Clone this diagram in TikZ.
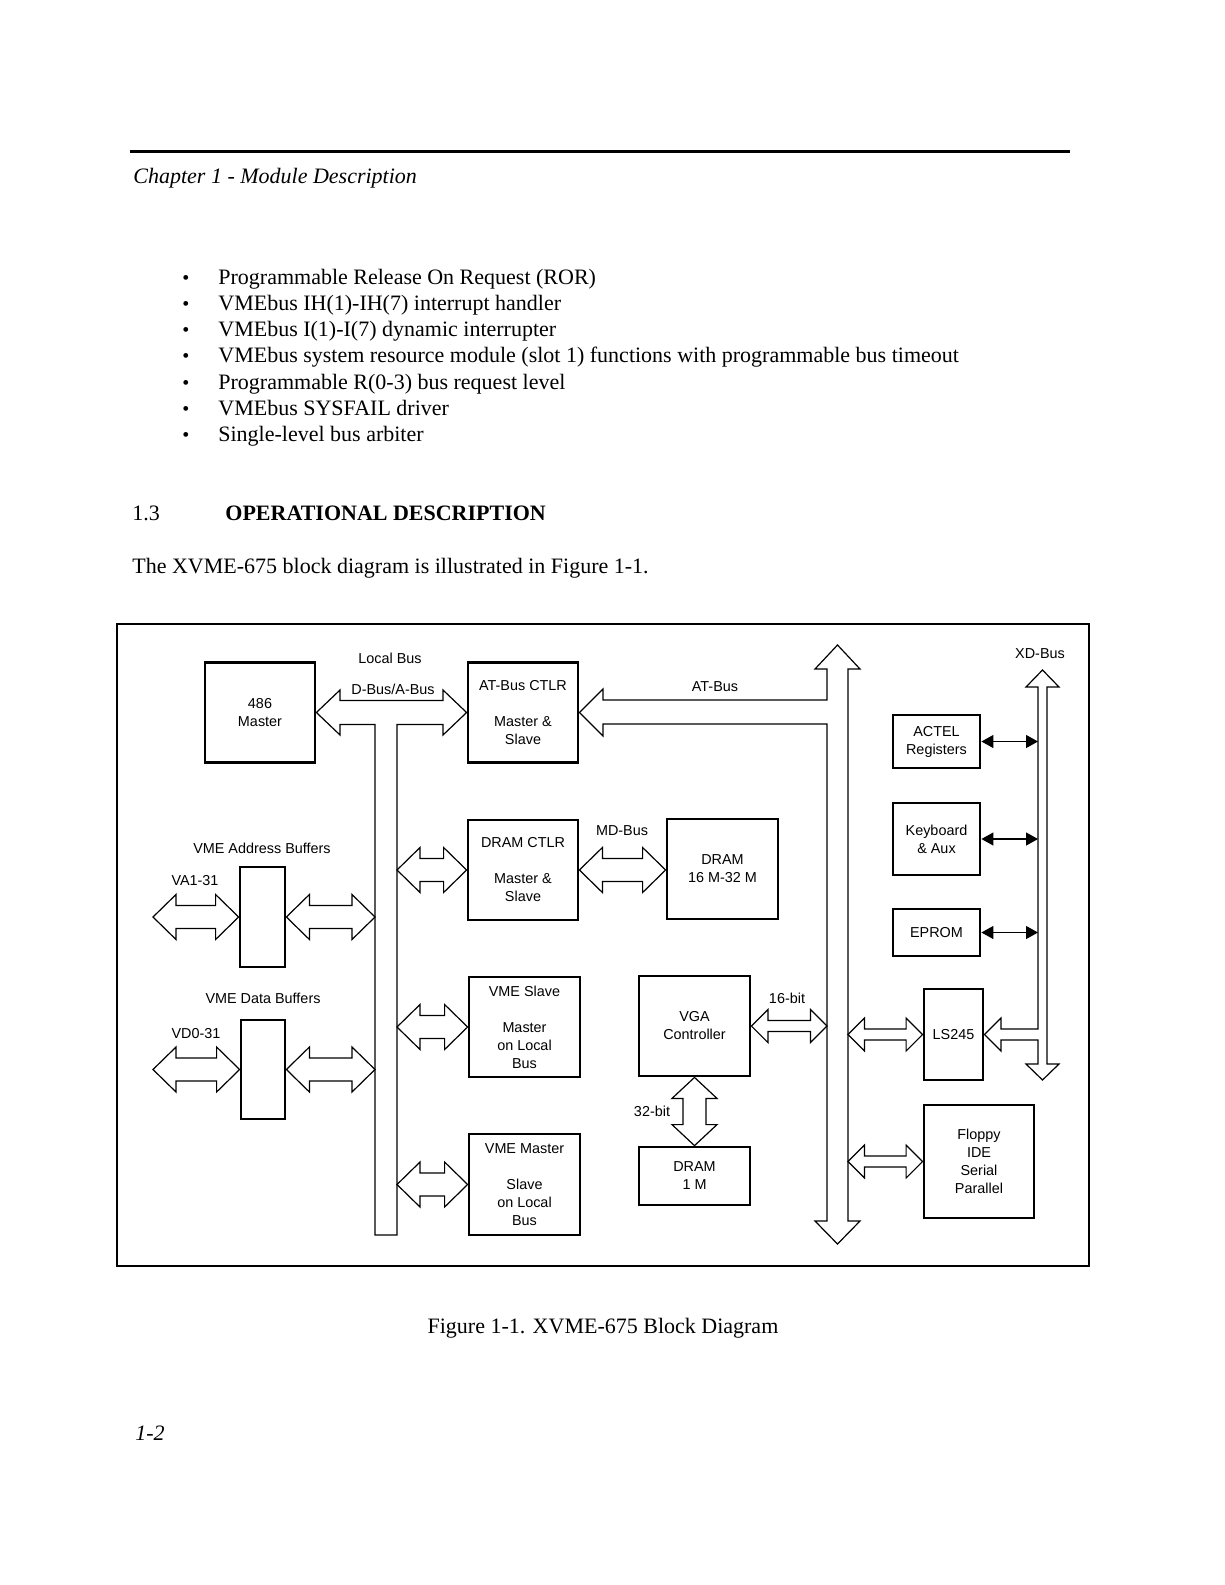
\documentclass[tikz,border=0pt]{standalone}
\usepackage{fontspec}
\setmainfont{Liberation Serif}
\setsansfont{Liberation Sans}
\usetikzlibrary{arrows.meta,calc}

\begin{document}
\begin{tikzpicture}[x=0.5pt,y=-0.5pt,font=\sffamily\fontsize{7.2}{9}\selectfont,
  blk/.style 2 args={draw,line width=1.4pt,inner sep=0pt,align=center,
    minimum width=#1*0.5pt,minimum height=#2*0.5pt},
  lab/.style={inner sep=0pt},
  txt/.style={font=\rmfamily\fontsize{11}{13}\selectfont,inner sep=0pt,anchor=base west},
  bus/.style={line width=0.6pt,line join=miter},
  harr/.style n args={3}{to path={
    -- ($(\tikztostart)+(#3,-#1)$) -- ($(\tikztostart)+(#3,-#2)$)
    -- ($(\tikztotarget)+(-#3,-#2)$) -- ($(\tikztotarget)+(-#3,-#1)$) -- (\tikztotarget)
    -- ($(\tikztotarget)+(-#3,#1)$) -- ($(\tikztotarget)+(-#3,#2)$)
    -- ($(\tikztostart)+(#3,#2)$) -- ($(\tikztostart)+(#3,#1)$) -- cycle}},
  bigarr/.style={harr={22.5}{11.5}{23}},
  smallarr/.style={harr={16.5}{5.5}{16.5}},
  varr/.style={to path={
    -- ($(\tikztostart)+(-22.5,21)$) -- ($(\tikztostart)+(-11.5,21)$)
    -- ($(\tikztotarget)+(-11.5,-21)$) -- ($(\tikztotarget)+(-22.5,-21)$) -- (\tikztotarget)
    -- ($(\tikztotarget)+(22.5,-21)$) -- ($(\tikztotarget)+(11.5,-21)$)
    -- ($(\tikztostart)+(11.5,21)$) -- ($(\tikztostart)+(22.5,21)$) -- cycle}},
  link/.style={line width=0.6pt,{Triangle[length=6pt,width=6.5pt]}-{Triangle[length=6pt,width=6.5pt]}}]
\useasboundingbox (0,0) rectangle (1225,1585);
% ---------- page text ----------
\draw[line width=1.5pt] (130,151) -- (1070,151);
\node[txt,font=\rmfamily\itshape\fontsize{11}{13}\selectfont] (chap) at (133,183) {Chapter 1 - Module Description};
\foreach \t [count=\i from 0] in {Programmable Release On Request (ROR),
  VMEbus IH(1)-IH(7) interrupt handler,
  VMEbus I(1)-I(7) dynamic interrupter,
  VMEbus system resource module (slot 1) functions with programmable bus timeout,
  Programmable R(0-3) bus request level,
  VMEbus SYSFAIL driver,
  Single-level bus arbiter}{
  \node[txt] (dot\i) at (182,284+26.3*\i) {\fontsize{10}{10}\selectfont\textbullet};
  \node[txt] (item\i) at (218,284+26.3*\i) {\t};
}
\node[txt] (secno) at (132,520) {1.3};
\node[txt,font=\rmfamily\bfseries\fontsize{11}{13}\selectfont] (sec) at (225,520) {OPERATIONAL DESCRIPTION};
\node[txt] (intro) at (132,573) {The XVME-675 block diagram is illustrated in Figure 1-1.};
\node[txt,anchor=base] (cap) at (603,1333) {Figure 1-1. XVME-675 Block Diagram};
\node[txt,font=\rmfamily\itshape\fontsize{11}{13}\selectfont] (pg) at (135,1440) {1-2};
% ---------- frame ----------
\draw[line width=1pt] (117,624) rectangle (1089,1266);
% ---------- blocks ----------
\node[blk={110}{100}] (mst) at (260,712.5) {486\\Master};
\node[blk={110}{100}] (atc) at (523,712.5) {AT-Bus CTLR\\[9pt]Master \&\\Slave};
\node[blk={110}{100}] (dctl) at (523,870) {DRAM CTLR\\[9pt]Master \&\\Slave};
\node[blk={111}{100}] (vsl) at (524.5,1027) {VME Slave\\[9pt]Master\\on Local\\Bus};
\node[blk={111}{101}] (vms) at (524.5,1184.5) {VME Master\\[9pt]Slave\\on Local\\Bus};
\node[blk={45}{100}] (abuf) at (262.5,917) {};
\node[blk={44}{99}] (dbuf) at (263,1069.5) {};
\node[blk={111}{100}] (dram) at (722.5,869) {DRAM\\16 M-32 M};
\node[blk={111}{100}] (vga) at (694.5,1026) {VGA\\Controller};
\node[blk={111}{58}] (dr1) at (694.5,1176) {DRAM\\1 M};
\node[blk={87}{53}] (act) at (936.5,741.5) {ACTEL\\Registers};
\node[blk={87}{72}] (kbd) at (936.5,839) {Keyboard\\\& Aux};
\node[blk={87}{47}] (epr) at (936.5,932.5) {EPROM};
\node[blk={59}{91}] (ls) at (953.5,1034.5) {LS245};
\node[blk={110}{113}] (flp) at (979,1161.5) {Floppy\\IDE\\Serial\\Parallel};
% ---------- labels ----------
\node[lab] (lLoc) at (390,658) {Local Bus};
\node[lab] (lDA) at (393,689) {D-Bus/A-Bus};
\node[lab] (lAT) at (715,687) {AT-Bus};
\node[lab] (lXD) at (1040,654) {XD-Bus};
\node[lab] (lMD) at (622,831) {MD-Bus};
\node[lab] (lVAB) at (262,848) {VME Address Buffers};
\node[lab] (lVA) at (195,881) {VA1-31};
\node[lab] (lVDB) at (263,998) {VME Data Buffers};
\node[lab] (lVD) at (196,1034) {VD0-31};
\node[lab] (l16) at (787,998) {16-bit};
\node[lab] (l32) at (652,1111) {32-bit};
% ---------- buses ----------
\coordinate (lbL) at (375,724.5);
\coordinate (lbR) at (397,724.5);
\coordinate (atL) at (827,700);
\coordinate (atR) at (848,700);
\coordinate (atTop) at (837.5,645);
\coordinate (atBot) at (837.5,1244);
\coordinate (xdL) at (1038,700);
\coordinate (xdTop) at (1042.5,670);
\coordinate (xdBot) at (1042.5,1080);
\coordinate (vaEnd) at (153,917);
\coordinate (vdEnd) at (153,1069.5);
\draw[bus] (mst.east) -- (340,690) -- (340,700.5) -- (443,700.5) -- (443,690) -- (atc.west)
  -- (443,735) -- (443,724.5) -- (lbR) -- (397,1235) -- (375,1235) -- (lbL)
  -- (340,724.5) -- (340,735) -- cycle;
\draw[bus] (atc.east) -- (603,689) -- (603,700) -- (atL) -- (827,669) -- (815,669) -- (atTop)
  -- (860,669) -- (848,669) -- (848,1221) -- (860,1221) -- (atBot) -- (815,1221) -- (827,1221)
  -- (827,724) -- (603,724) -- (603,736) -- cycle;
\draw[bus] (xdTop) -- (1059,687) -- (1047,687) -- (1047,1064) -- (1059,1064) -- (xdBot)
  -- (1026,1064) -- (1038,1064) -- (1038,1040) -- (1001,1040) -- (1001,1051) -- (ls.east)
  -- (1001,1018) -- (1001,1029) -- (1038,1029) -- (1038,687) -- (1026,687) -- cycle;
% ---------- connectors ----------
\draw[bus] (vaEnd) to[bigarr] (abuf.west);
\draw[bus] (abuf.east) to[bigarr] (abuf.east -| lbL);
\draw[bus] (vdEnd) to[bigarr] (dbuf.west);
\draw[bus] (dbuf.east) to[bigarr] (dbuf.east -| lbL);
\foreach \b in {dctl,vsl,vms}{\draw[bus] (lbR |- \b.west) to[bigarr] (\b.west);}
\draw[bus] (dctl.east) to[bigarr] (dctl.east -| dram.west);
\draw[bus] (vga.east) to[smallarr] (vga.east -| atL);
\draw[bus] (vga.south) to[varr] (dr1.north);
\foreach \b in {ls,flp}{\draw[bus] (atR |- \b.west) to[smallarr] (\b.west);}
\foreach \b in {act,kbd,epr}{\draw[link] (\b.east) -- (\b.east -| xdL);}
\end{tikzpicture}
\end{document}
